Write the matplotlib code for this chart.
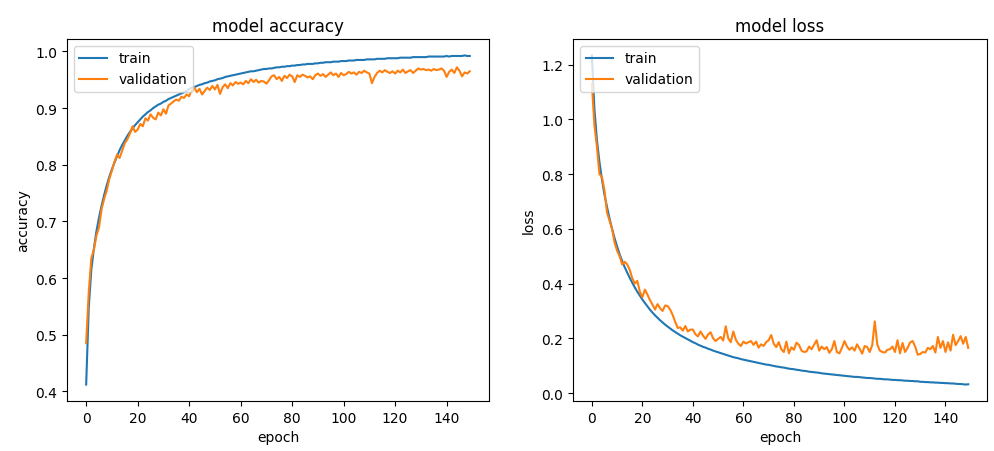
import numpy as np
import matplotlib
matplotlib.use("Agg")
import matplotlib.pyplot as plt

# training history (150 epochs)
train_acc = [
    0.412, 0.548, 0.615, 0.652, 0.683, 0.707, 0.728, 0.747, 0.764, 0.779,
    0.792, 0.804, 0.815, 0.826, 0.835, 0.843, 0.851, 0.858, 0.864, 0.870,
    0.875, 0.880, 0.885, 0.889, 0.893, 0.896, 0.900, 0.903, 0.906, 0.908,
    0.911, 0.913, 0.916, 0.918, 0.920, 0.922, 0.924, 0.926, 0.928, 0.930,
    0.934, 0.936, 0.937, 0.939, 0.941, 0.942, 0.944, 0.945, 0.947, 0.948,
    0.949, 0.951, 0.952, 0.953, 0.955, 0.956, 0.957, 0.958, 0.959, 0.960,
    0.961, 0.962, 0.963, 0.964, 0.965, 0.965, 0.966, 0.967, 0.968, 0.969,
    0.969, 0.970, 0.970, 0.971, 0.972, 0.972, 0.973, 0.973, 0.974, 0.974,
    0.975, 0.975, 0.976, 0.976, 0.977, 0.977, 0.978, 0.978, 0.978, 0.979,
    0.979, 0.980, 0.980, 0.981, 0.981, 0.981, 0.982, 0.982, 0.982, 0.983,
    0.983, 0.983, 0.984, 0.984, 0.984, 0.985, 0.985, 0.985, 0.985, 0.986,
    0.986, 0.986, 0.986, 0.987, 0.987, 0.987, 0.987, 0.988, 0.988, 0.988,
    0.988, 0.988, 0.989, 0.989, 0.989, 0.989, 0.989, 0.990, 0.990, 0.990,
    0.990, 0.990, 0.990, 0.991, 0.991, 0.991, 0.991, 0.991, 0.991, 0.991,
    0.992, 0.991, 0.992, 0.992, 0.992, 0.992, 0.992, 0.993, 0.992, 0.992,
]
val_acc = [
    0.485, 0.575, 0.635, 0.650, 0.675, 0.690, 0.722, 0.740, 0.755, 0.775,
    0.790, 0.805, 0.818, 0.812, 0.825, 0.838, 0.845, 0.855, 0.868, 0.858,
    0.862, 0.872, 0.868, 0.882, 0.878, 0.889, 0.883, 0.880, 0.892, 0.887,
    0.898, 0.890, 0.905, 0.908, 0.912, 0.915, 0.913, 0.920, 0.918, 0.924,
    0.921, 0.932, 0.936, 0.928, 0.934, 0.924, 0.930, 0.936, 0.932, 0.939,
    0.933, 0.941, 0.925, 0.937, 0.942, 0.935, 0.944, 0.940, 0.946, 0.943,
    0.945, 0.942, 0.948, 0.944, 0.951, 0.946, 0.950, 0.945, 0.948, 0.947,
    0.943, 0.949, 0.956, 0.958, 0.951, 0.955, 0.948, 0.957, 0.953, 0.959,
    0.956, 0.946, 0.958, 0.955, 0.959, 0.957, 0.954, 0.956, 0.951, 0.958,
    0.961, 0.957, 0.960, 0.955, 0.959, 0.963, 0.958, 0.961, 0.955, 0.962,
    0.958, 0.960, 0.964, 0.961, 0.963, 0.959, 0.964, 0.962, 0.966, 0.963,
    0.961, 0.944, 0.955, 0.962, 0.966, 0.963, 0.967, 0.964, 0.962, 0.965,
    0.961, 0.966, 0.963, 0.968, 0.962, 0.965, 0.967, 0.962, 0.966, 0.970,
    0.968, 0.969, 0.967, 0.968, 0.966, 0.969, 0.967, 0.968, 0.970, 0.966,
    0.955, 0.964, 0.968, 0.962, 0.972, 0.966, 0.956, 0.963, 0.961, 0.965,
]
train_loss = [
    1.234, 1.040, 0.925, 0.845, 0.780, 0.725, 0.680, 0.638, 0.600, 0.566,
    0.535, 0.507, 0.482, 0.460, 0.440, 0.421, 0.403, 0.386, 0.370, 0.356,
    0.342, 0.329, 0.317, 0.305, 0.294, 0.284, 0.275, 0.266, 0.258, 0.250,
    0.243, 0.236, 0.229, 0.223, 0.217, 0.211, 0.206, 0.201, 0.196, 0.191,
    0.186, 0.182, 0.177, 0.173, 0.169, 0.166, 0.162, 0.159, 0.155, 0.152,
    0.149, 0.146, 0.143, 0.140, 0.137, 0.134, 0.131, 0.129, 0.127, 0.124,
    0.122, 0.120, 0.118, 0.116, 0.114, 0.112, 0.110, 0.108, 0.106, 0.104,
    0.103, 0.101, 0.099, 0.097, 0.096, 0.094, 0.093, 0.091, 0.089, 0.088,
    0.087, 0.085, 0.084, 0.082, 0.081, 0.080, 0.078, 0.077, 0.076, 0.075,
    0.074, 0.072, 0.071, 0.070, 0.069, 0.068, 0.067, 0.066, 0.065, 0.064,
    0.063, 0.062, 0.061, 0.060, 0.059, 0.059, 0.058, 0.057, 0.056, 0.055,
    0.055, 0.054, 0.053, 0.052, 0.052, 0.051, 0.050, 0.050, 0.049, 0.048,
    0.048, 0.047, 0.047, 0.046, 0.045, 0.045, 0.044, 0.044, 0.043, 0.043,
    0.041, 0.041, 0.040, 0.040, 0.039, 0.039, 0.038, 0.038, 0.037, 0.037,
    0.036, 0.036, 0.035, 0.035, 0.034, 0.033, 0.033, 0.032, 0.031, 0.032,
]
val_loss = [
    1.130, 0.980, 0.900, 0.800, 0.790, 0.740, 0.660, 0.630, 0.600, 0.550,
    0.520, 0.500, 0.470, 0.480, 0.470, 0.450, 0.420, 0.400, 0.410, 0.370,
    0.350, 0.378, 0.360, 0.340, 0.323, 0.305, 0.325, 0.310, 0.300, 0.320,
    0.318, 0.305, 0.285, 0.260, 0.238, 0.240, 0.228, 0.245, 0.225, 0.232,
    0.232, 0.215, 0.207, 0.225, 0.210, 0.198, 0.214, 0.222, 0.200, 0.190,
    0.198, 0.205, 0.192, 0.244, 0.200, 0.186, 0.225, 0.195, 0.180, 0.172,
    0.188, 0.181, 0.186, 0.190, 0.176, 0.188, 0.166, 0.178, 0.172, 0.186,
    0.193, 0.212, 0.180, 0.168, 0.186, 0.160, 0.150, 0.188, 0.145, 0.167,
    0.158, 0.184, 0.176, 0.155, 0.150, 0.152, 0.170, 0.160, 0.177, 0.193,
    0.155, 0.170, 0.160, 0.168, 0.147, 0.160, 0.190, 0.150, 0.145, 0.165,
    0.190, 0.170, 0.158, 0.167, 0.155, 0.178, 0.162, 0.144, 0.172, 0.168,
    0.150, 0.175, 0.262, 0.178, 0.155, 0.150, 0.148, 0.158, 0.160, 0.170,
    0.150, 0.193, 0.145, 0.183, 0.150, 0.165, 0.185, 0.190, 0.170, 0.140,
    0.143, 0.150, 0.148, 0.165, 0.160, 0.172, 0.148, 0.205, 0.165, 0.190,
    0.150, 0.185, 0.155, 0.213, 0.175, 0.190, 0.208, 0.180, 0.205, 0.165,
]
epochs = np.arange(len(train_acc))

fig = plt.figure(figsize=(9.94, 4.52), dpi=100)
ax1 = fig.add_axes([0.0674, 0.1106, 0.4245, 0.801])
ax2 = fig.add_axes([0.5765, 0.1106, 0.4165, 0.801])

# accuracy
ax1.plot(epochs, train_acc, label="train")
ax1.plot(epochs, val_acc, label="validation")
ax1.set_title("model accuracy")
ax1.set_ylabel("accuracy")
ax1.set_xlabel("epoch")
ax1.legend(loc="upper left")

# loss
ax2.plot(epochs, train_loss, label="train")
ax2.plot(epochs, val_loss, label="validation")
ax2.set_title("model loss")
ax2.set_ylabel("loss")
ax2.set_xlabel("epoch")
ax2.legend(loc="upper left")

fig.savefig("out.png", dpi=100)
